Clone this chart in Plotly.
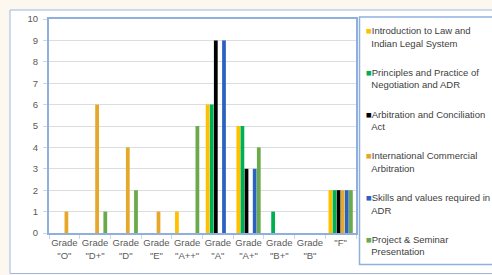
import plotly.graph_objects as go

categories = ['Grade "O"', 'Grade "D+"', 'Grade "D"', 'Grade "E"', 'Grade "A++"',
              'Grade "A"', 'Grade "A+"', 'Grade "B+"', 'Grade "B"', '"F"']
tick_labels = ['Grade<br>"O"', 'Grade<br>"D+"', 'Grade<br>"D"', 'Grade<br>"E"', 'Grade<br>"A++"',
               'Grade<br>"A"', 'Grade<br>"A+"', 'Grade<br>"B+"', 'Grade<br>"B"', '"F"']

series_names = [
    "Introduction to Law and<br>Indian Legal System",
    "Principles and Practice of<br>Negotiation and ADR",
    "Arbitration and Conciliation<br>Act",
    "International Commercial<br>Arbitration",
    "Skills and values required in<br>ADR",
    "Project & Seminar<br>Presentation",
]
intro_law = [0, 0, 0, 0, 1, 6, 5, 0, 0, 2]
negotiation_adr = [0, 0, 0, 0, 0, 6, 5, 1, 0, 2]
arbitration_act = [0, 0, 0, 0, 0, 9, 3, 0, 0, 2]
intl_commercial = [1, 6, 4, 1, 0, 0, 0, 0, 0, 2]
skills_adr = [0, 0, 0, 0, 0, 9, 3, 0, 0, 2]
project_seminar = [0, 1, 2, 0, 5, 0, 4, 0, 0, 2]

values = [intro_law, negotiation_adr, arbitration_act, intl_commercial, skills_adr, project_seminar]
colors = ["#FFC000", "#00B050", "#000000", "#E6A82A", "#2B62C2", "#6AAA4A"]

FONT = "Liberation Sans"
fig = go.Figure()
for name, vals, col in zip(series_names, values, colors):
    fig.add_trace(go.Bar(x=categories, y=vals, marker=dict(color=col, line=dict(width=0)),
                         showlegend=False, name=name.replace("<br>", " ")))

# legend entries (small coloured square glyph + label)
for i, (name, col) in enumerate(zip(series_names, colors)):
    first, second = name.split("<br>")
    label = (f"<span style='color:{col}'>■</span>{first}<br>"
             f"\u00a0\u00a0{second}")
    fig.add_trace(go.Scatter(x=[None], y=[None], mode="markers",
                             marker=dict(size=1, opacity=0, color="rgba(0,0,0,0)",
                                         line=dict(width=0)),
                             name=label, legendgroup=f"g{i}", showlegend=True))

W, H = 492, 275
L, R, T, B = 49, 356, 19, 233
pw, ph = R - L, B - T

def px(x):
    return (x - L) / pw

def py(y):
    return (B - y) / ph

fig.add_shape(type="rect", xref="paper", yref="paper", layer="below",
              x0=px(10), x1=px(520), y0=py(273.5), y1=py(10),
              fillcolor="#FFFFFF", line=dict(color="#9DB8E0", width=1))
fig.add_shape(type="rect", xref="paper", yref="paper", layer="above",
              x0=px(359.5), x1=px(520), y0=py(264.5), y1=py(17),
              fillcolor="rgba(0,0,0,0)", line=dict(color="#8FB0DE", width=1.5))

fig.update_layout(
    width=W, height=H,
    margin=dict(l=L, r=W - R, t=T, b=H - B, autoexpand=False),
    paper_bgcolor="#FCF8EF",
    plot_bgcolor="rgba(0,0,0,0)",
    barmode="group",
    bargap=0.2,
    bargroupgap=0.08,
    font=dict(family=FONT, size=9, color="#595959"),
    legend=dict(x=px(326), xanchor="left", y=py(18), yanchor="top",
                bgcolor="rgba(0,0,0,0)", borderwidth=0, maxheight=1,
                font=dict(family=FONT, size=9.5, color="#404040"),
                tracegroupgap=14, itemclick=False),
    xaxis=dict(type="category", tickvals=categories, ticktext=tick_labels,
               tickangle=0, automargin=False,
               showline=True, linecolor="#8FB0DE", linewidth=2, mirror=True,
               ticks="outside", tickson="boundaries", ticklen=4, tickcolor="#C8D6EC",
               showgrid=False, tickfont=dict(size=9.5, color="#595959")),
    yaxis=dict(range=[0, 10], dtick=1, showline=True, linecolor="#8FB0DE", linewidth=2,
               automargin=False,
               mirror=True, ticks="outside", ticklen=4, tickcolor="#C8D6EC",
               gridcolor="#DADDE2", gridwidth=1, zeroline=False,
               tickfont=dict(size=9.5, color="#595959"), ticklabelstandoff=3),
)

fig.write_html("out.html", config={"displayModeBar": False},
               post_script="document.body.style.margin='0';")
